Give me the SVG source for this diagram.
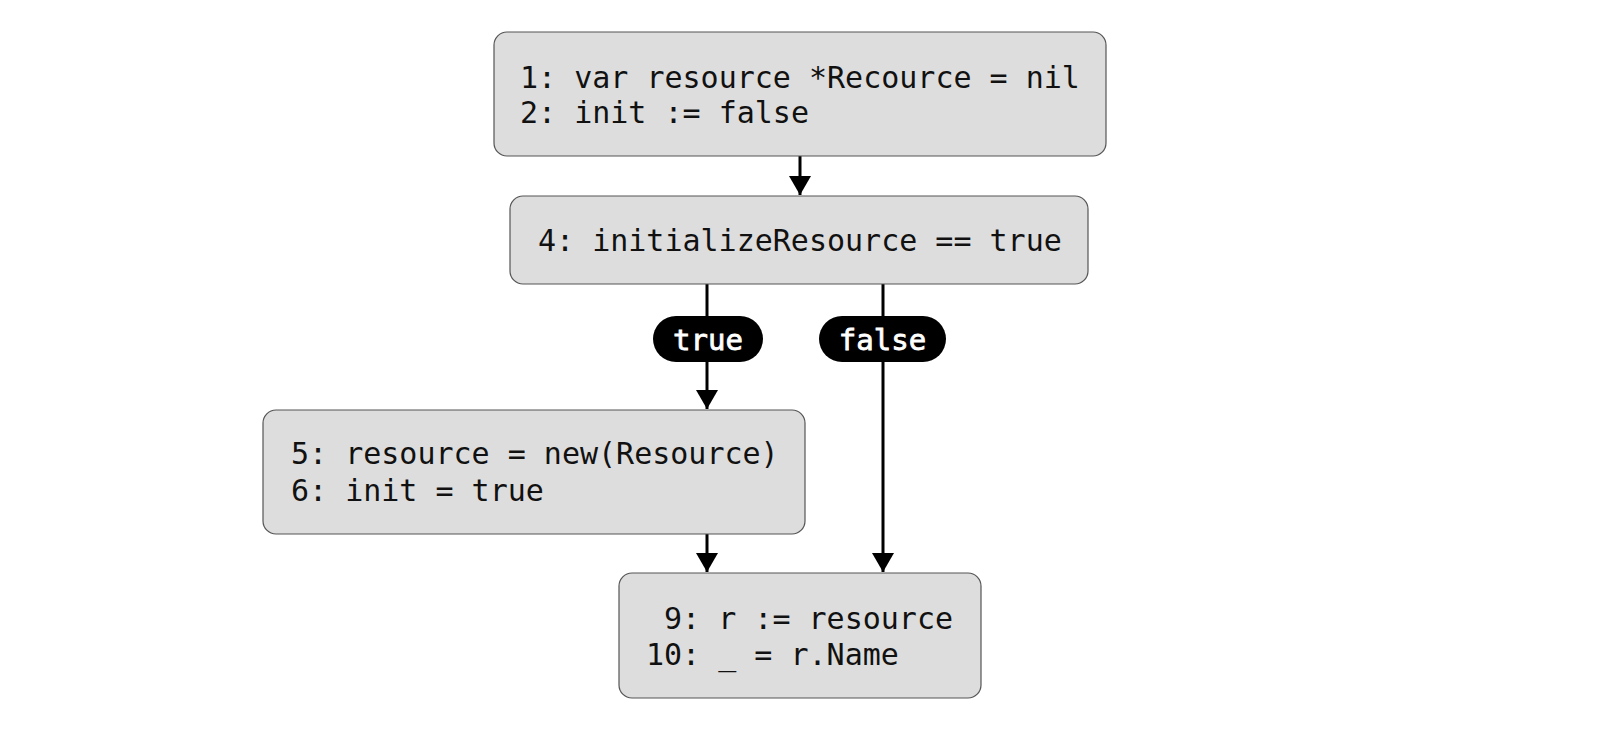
<svg xmlns="http://www.w3.org/2000/svg" width="1600" height="730" viewBox="0 0 1600 730">
<style>
.box{fill:#dddddd;stroke:#555555;stroke-width:1.2}
.code{font-family:"DejaVu Sans Mono","Liberation Mono",monospace;font-size:30px;fill:#111111}
.edge{stroke:#000;stroke-width:3;fill:none}
.pill{fill:#000}
.lbl{font-family:"DejaVu Sans Mono","Liberation Mono",monospace;font-size:29px;fill:#fff;stroke:#fff;stroke-width:0.8;text-anchor:middle}
</style>
<defs>
<marker id="ah" markerUnits="userSpaceOnUse" markerWidth="22" markerHeight="22" refX="19" refY="11" orient="auto">
<path d="M0,0 L19,11 L0,22 z" fill="#000"/>
</marker>
</defs>
<rect width="1600" height="730" fill="#ffffff"/>
<g id="connectors">
<line class="edge" x1="800" y1="156" x2="800" y2="195" marker-end="url(#ah)"/>
<line class="edge" x1="707" y1="284" x2="707" y2="409" marker-end="url(#ah)"/>
<line class="edge" x1="883" y1="284" x2="883" y2="572" marker-end="url(#ah)"/>
<line class="edge" x1="707" y1="534" x2="707" y2="572" marker-end="url(#ah)"/>
<g id="label-true">
<rect class="pill" x="653" y="316" width="110" height="46" rx="23"/>
<text class="lbl" x="708" y="350">true</text>
</g>
<g id="label-false">
<rect class="pill" x="819" y="316" width="127" height="46" rx="23"/>
<text class="lbl" x="882.5" y="350">false</text>
</g>
</g>
<g id="node1">
<rect class="box" x="494" y="32" width="612" height="124" rx="13"/>
<text class="code" x="520" y="88">1: var resource *Recource = nil</text>
<text class="code" x="520" y="123">2: init := false</text>
</g>
<g id="node4">
<rect class="box" x="510" y="196" width="578" height="88" rx="13"/>
<text class="code" x="538" y="251">4: initializeResource == true</text>
</g>
<g id="node5">
<rect class="box" x="263" y="410" width="542" height="124" rx="13"/>
<text class="code" x="291" y="464">5: resource = new(Resource)</text>
<text class="code" x="291" y="501">6: init = true</text>
</g>
<g id="node9">
<rect class="box" x="619" y="573" width="362" height="125" rx="13"/>
<text class="code" x="646" y="629" xml:space="preserve"> 9: r := resource</text>
<text class="code" x="646" y="665">10: _ = r.Name</text>
</g>
</svg>
